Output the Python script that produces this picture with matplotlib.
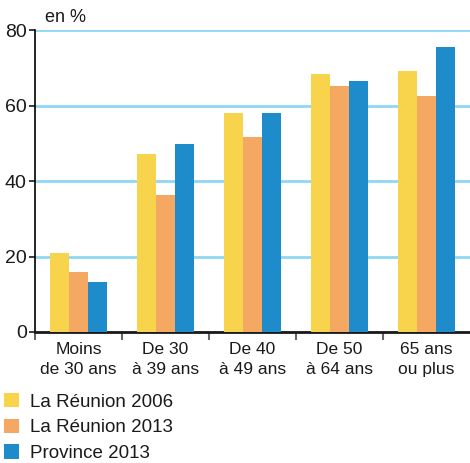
import numpy as np
import matplotlib
matplotlib.use('Agg')
import matplotlib.pyplot as plt

# ── Données ────────────────────────────────────────────────────────────────
categories = ['Moins\nde 30 ans', 'De 30\nà 39 ans', 'De 40\nà 49 ans',
              'De 50\nà 64 ans', '65 ans\nou plus']
reunion_2006 = [20.9, 47.2, 58.0, 68.4, 69.1]
reunion_2013 = [15.9, 36.4, 51.8, 65.2, 62.6]
province_2013 = [13.3, 49.9, 58.0, 66.5, 75.4]
series_labels = ['La Réunion 2006', 'La Réunion 2013', 'Province 2013']
y_ticks = [0, 20, 40, 60, 80]

# ── Style ──────────────────────────────────────────────────────────────────
C_YELLOW = '#F7D44C'
C_ORANGE = '#F4A862'
C_BLUE   = '#1E8CCB'
C_GRID   = '#8FD7F4'
C_TEXT   = '#1a1a1a'
plt.rcParams['font.family'] = ['Liberation Sans', 'DejaVu Sans']

fig = plt.figure(figsize=(4.7, 4.63), dpi=100)
ax = fig.add_axes([0.0745, 0.283, 0.925, 0.652])

x = np.arange(len(categories))
w = 0.22
bars = []
for i, (vals, col) in enumerate(zip([reunion_2006, reunion_2013, province_2013],
                                    [C_YELLOW, C_ORANGE, C_BLUE])):
    b = ax.bar(x + (i - 1) * w, vals, width=w, color=col, zorder=3,
               label=series_labels[i])
    bars.append(b)

ax.set_xlim(-0.5, len(categories) - 0.5)
ax.set_ylim(0, 80)
ax.set_yticks(y_ticks)
ax.yaxis.grid(True, color=C_GRID, linewidth=2, zorder=0)
ax.set_axisbelow(True)

for s in ['top', 'right']:
    ax.spines[s].set_visible(False)
ax.spines['left'].set_linewidth(1.2)
ax.spines['bottom'].set_linewidth(2)
ax.spines['bottom'].set_color(C_TEXT)

ax.tick_params(axis='y', length=4, width=1.2, labelsize=14, pad=2,
               colors=C_TEXT)
# ticks entre les groupes
ax.set_xticks(np.arange(-0.5, len(categories) - 0.5, 1.0))
ax.set_xticklabels([])
ax.tick_params(axis='x', length=6, width=1.5, color='#666666')
ax.set_xticks(x, minor=True)
ax.set_xticklabels(categories, minor=True, fontsize=12.5, color=C_TEXT,
                   linespacing=1.45)
ax.tick_params(axis='x', which='minor', length=0, pad=7)

fig.text(0.096, 0.953, 'en %', fontsize=13, color=C_TEXT)

fig.legend(handles=bars, labels=series_labels, loc='upper left',
           bbox_to_anchor=(0.008, 0.151), frameon=False, fontsize=13.5,
           handlelength=0.8, handleheight=0.8, handletextpad=0.6,
           labelspacing=0.42, borderaxespad=0, borderpad=0,
           labelcolor=C_TEXT)

plt.savefig('out.png', dpi=100, facecolor='white')
plt.close(fig)
